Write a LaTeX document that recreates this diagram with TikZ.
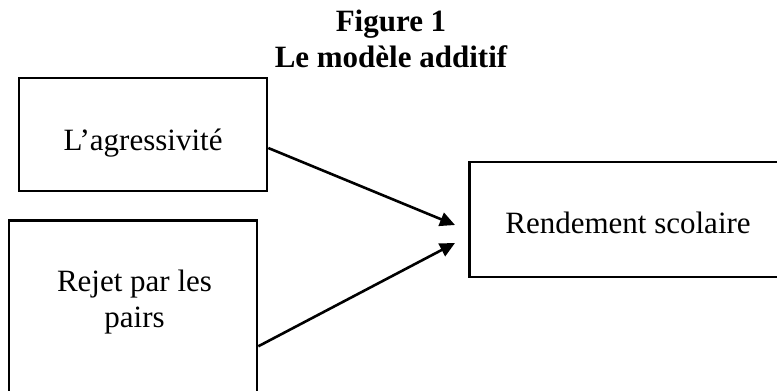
\documentclass[tikz,border=0pt]{standalone}
\usepackage{fontspec}
\setmainfont{Liberation Serif}
\usetikzlibrary{arrows.meta}

\begin{document}
\begin{tikzpicture}[
    x=1pt, y=-1pt,
    box/.style={draw, line width=2.6pt, inner sep=0pt},
    lbl/.style={inner sep=0pt, font=\fontsize{31}{36}\selectfont},
    link/.style={-{Triangle[length=15pt, width=14pt]}, line width=2.6pt},
]
\useasboundingbox (0,0) rectangle (777,391);
\clip (0,0) rectangle (777,391);

% Title
\node[lbl, font=\fontsize{31}{36}\selectfont\bfseries, align=center] (title) at (391,39) {Figure 1\\Le modèle additif};

% Left: the two predictors
\node[box, minimum width=248pt, minimum height=113pt] (agr) at (143,134.5) {};
\node[lbl, anchor=base] (agrtxt) at (143,150) {L’agressivité};

% lower box runs past the bottom edge
\node[box, minimum width=248pt, minimum height=220pt, anchor=north] (rej) at (133,219) {};
\node[lbl, align=center] (rejtxt) at (134.5,301.8) {Rejet par les\\pairs};

% Right: outcome (runs past the right edge)
\node[box, minimum width=340pt, minimum height=115pt, anchor=west] (rend) at (468,219.5) {};
\node[lbl, anchor=base] (rendtxt) at (628,233) {Rendement scolaire};

% Arrows stop short of the outcome box
\coordinate (tipA) at (455,225);
\coordinate (tipB) at (455,243);
\draw[link] ([yshift=-13.5pt]agr.east) -- (tipA);
\draw[link] ([yshift=-16pt]rej.east) -- (tipB);
\end{tikzpicture}
\end{document}
